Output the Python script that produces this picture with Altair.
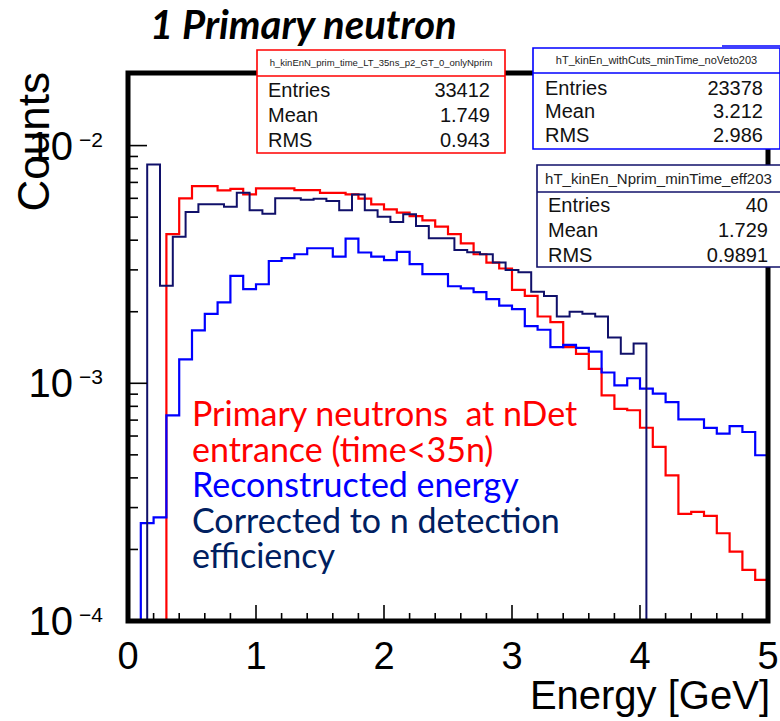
import altair as alt
import pandas as pd

# ---------------- data ----------------
red_values = [0, 0, 0, 0.00424, 0.00600, 0.00675, 0.00675, 0.00648, 0.00658, 0.00623,
              0.00661, 0.00661, 0.00661, 0.00649, 0.00650, 0.00633, 0.00633, 0.00623, 0.00598, 0.00566,
              0.00539, 0.00522, 0.00505, 0.00485, 0.00456, 0.00424, 0.00388, 0.00349, 0.00322, 0.00304,
              0.00247, 0.00233, 0.00191, 0.00181, 0.00142, 0.00133, 0.00115, 0.00089, 0.00078, 0.00077,
              0.00065, 0.00054, 0.00041, 0.000282, 0.000288, 0.000277, 0.000234, 0.000196, 0.000164, 0.000149]
blue_values = [0, 0.000258, 0.000273, 0.000733, 0.00126, 0.00167, 0.00196, 0.00219, 0.00283, 0.00249,
               0.00261, 0.00327, 0.00336, 0.00349, 0.00370, 0.00370, 0.00341, 0.00406, 0.00355, 0.00341,
               0.00330, 0.00357, 0.00317, 0.00288, 0.00288, 0.00256, 0.00251, 0.00242, 0.00226, 0.00212,
               0.00205, 0.00174, 0.00168, 0.00142, 0.00145, 0.00141, 0.00136, 0.00111, 0.00098, 0.00105,
               0.00095, 0.000904, 0.000834, 0.000705, 0.000705, 0.000649, 0.000614, 0.000661, 0.000624, 0.000498]
navy_values = [0.00832, 0.00257, 0.00414, 0.00525, 0.00566, 0.00566, 0.00553, 0.00633, 0.00534, 0.00517,
               0.00600, 0.00600, 0.00592, 0.00598, 0.00584, 0.00535, 0.00623, 0.00535, 0.00502, 0.00477,
               0.00514, 0.00459, 0.00408, 0.00408, 0.00364, 0.00356, 0.00349, 0.00322, 0.00300, 0.00293,
               0.00243, 0.00233, 0.00191, 0.00200, 0.00196, 0.00191, 0.00156, 0.00133, 0.00147]
bin_width = 0.1
red_blue_start = 0.0
navy_start = 0.15

x_tick_labels = ["0", "1", "2", "3", "4", "5"]
y_decades = [-2, -3, -4]

box1_title = "h_kinEnN_prim_time_LT_35ns_p2_GT_0_onlyNprim"
box1_values = ["33412", "1.749", "0.943"]
box2_title = "hT_kinEn_withCuts_minTime_noVeto203"
box2_values = ["23378", "3.212", "2.986"]
box3_title = "hT_kinEn_Nprim_minTime_eff203"
box3_values = ["40", "1.729", "0.9891"]
stat_names = ["Entries", "Mean", "RMS"]

note_lines = [
    ("Primary neutrons \u00a0at nDet", "#ff0000"),
    ("entrance (time<35n)", "#ff0000"),
    ("Reconstructed energy", "#0000ff"),
    ("Corrected to n detection", "#002060"),
    ("efficiency", "#002060"),
]
title_text = "1 Primary neutron"

# ---------------- geometry ----------------
W, H = 640, 548
TINY = 1e-6
xscale = alt.Scale(domain=[0, 5], nice=False, zero=False)
yscale = alt.Scale(type="log", domain=[1e-4, 0.0202], nice=False, clamp=True)
one = alt.Data(values=[{"a": 1}])

RED, BLUE, NAVY = "#ff0000", "#0000ff", "#10106a"


def hist_steps(start, values):
    edges = [round(start + bin_width * i, 4) for i in range(len(values) + 1)]
    rows = [{"E": edges[0], "v": TINY}]
    for e, v in zip(edges[:-1], values):
        rows.append({"E": e, "v": v if v > 0 else TINY})
    rows.append({"E": edges[-1], "v": values[-1] if values[-1] > 0 else TINY})
    rows.append({"E": edges[-1], "v": TINY})
    df = pd.DataFrame(rows)
    df["i"] = range(len(df))
    return df


def hist_layer(df, color, width):
    return alt.Chart(df).mark_line(interpolate="step-after", color=color, strokeWidth=width).encode(
        x=alt.X("E:Q", scale=xscale, axis=None),
        y=alt.Y("v:Q", scale=yscale, axis=None),
        order=alt.Order("i:Q"),
    )


def txt(s, x, y, size, color="black", align="left", font="Liberation Sans",
        weight="normal", style="normal", angle=0):
    return alt.Chart(one).mark_text(
        text=s, align=align, baseline="alphabetic", fontSize=size, font=font,
        fontWeight=weight, fontStyle=style, color=color, angle=angle
    ).encode(x=alt.value(x), y=alt.value(y))


def box(x0, x1, y0, y1, ysep, color):
    r = alt.Chart(one).mark_rect(fill="white", stroke=color, strokeWidth=1.6).encode(
        x=alt.value(x0), x2=alt.value(x1), y=alt.value(y0), y2=alt.value(y1))
    s = alt.Chart(one).mark_rule(color=color, strokeWidth=1.6).encode(
        x=alt.value(x0), x2=alt.value(x1), y=alt.value(ysep))
    return [r, s]


def stats(title, values, x0, x1, y0, y1, ysep, color, tsize, lx, vx, rows_y):
    layers = box(x0, x1, y0, y1, ysep, color)
    layers.append(txt(title, (x0 + min(x1, 652)) / 2, (y0 + ysep) / 2 + tsize * 0.36, tsize,
                      color="#222222", align="center"))
    for name, val, yy in zip(stat_names, values, rows_y):
        layers.append(txt(name, lx, yy, 20, color="#111111"))
        layers.append(txt(val, vx, yy, 20, color="#111111", align="right"))
    return layers


layers = []
layers.append(hist_layer(hist_steps(red_blue_start, red_values), RED, 2.2))
layers.append(hist_layer(hist_steps(red_blue_start, blue_values), BLUE, 2.2))
layers.append(hist_layer(hist_steps(navy_start, navy_values), NAVY, 2.0))

# frame
layers.append(alt.Chart(one).mark_rect(filled=False, stroke="black", strokeWidth=5).encode(
    x=alt.value(0), x2=alt.value(W), y=alt.value(0), y2=alt.value(H)))

# ticks (inside the frame, ROOT style)
ymaj = pd.DataFrame({"v": [10.0 ** d for d in y_decades]})
ymin = pd.DataFrame({"v": [k * 10.0 ** d for d in [-4, -3] for k in range(2, 10)]})
layers.append(alt.Chart(ymaj).mark_rule(color="black", strokeWidth=1.6).encode(
    y=alt.Y("v:Q", scale=yscale, axis=None), x=alt.value(0), x2=alt.value(19)))
layers.append(alt.Chart(ymin).mark_rule(color="black", strokeWidth=1.6).encode(
    y=alt.Y("v:Q", scale=yscale, axis=None), x=alt.value(0), x2=alt.value(10)))
xmaj = pd.DataFrame({"t": [float(s) for s in x_tick_labels], "lab": x_tick_labels})
xmin = pd.DataFrame({"t": [round(0.2 * k, 2) for k in range(1, 25) if k % 5 != 0]})
layers.append(alt.Chart(xmaj).mark_rule(color="black", strokeWidth=1.6).encode(
    x=alt.X("t:Q", scale=xscale, axis=None), y=alt.value(H), y2=alt.value(H - 16)))
layers.append(alt.Chart(xmin).mark_rule(color="black", strokeWidth=1.6).encode(
    x=alt.X("t:Q", scale=xscale, axis=None), y=alt.value(H), y2=alt.value(H - 8)))

# tick labels
layers.append(alt.Chart(xmaj).mark_text(fontSize=38, font="Liberation Sans", baseline="alphabetic",
                                        align="center", color="black").encode(
    x=alt.X("t:Q", scale=xscale, axis=None), y=alt.value(596), text="lab:N"))
ylab = pd.DataFrame({"v": [10.0 ** d for d in y_decades],
                     "e": ["\u2212" + str(-d) for d in y_decades]})
layers.append(alt.Chart(ylab).mark_text(text="10", fontSize=40, font="Liberation Sans",
                                        baseline="alphabetic", align="right", dy=14, color="black").encode(
    y=alt.Y("v:Q", scale=yscale, axis=None), x=alt.value(-55)))
layers.append(alt.Chart(ylab).mark_text(fontSize=21, font="Liberation Sans",
                                        baseline="alphabetic", align="left", dy=1, color="black").encode(
    y=alt.Y("v:Q", scale=yscale, axis=None), x=alt.value(-49), text="e:N"))

# axis titles
layers.append(txt("Counts", -79, -1, 44, align="right", angle=270))
layers.append(txt("Energy [GeV]", 642, 636, 40, align="right"))

# stats boxes
layers += stats(box1_title, box1_values, 129, 377, -23, 80, 3, RED, 9.5, 140, 362, [24, 49, 74])
layers += stats(box2_title, box2_values, 405, 652, -25, 76, 0, BLUE, 11, 417, 635, [22, 45, 69])
layers.append(alt.Chart(one).mark_rule(color=BLUE, strokeWidth=1.6).encode(
    x=alt.value(594), x2=alt.value(652), y=alt.value(-27)))
layers += stats(box3_title, box3_values, 409, 660, 92, 194, 119, NAVY, 15, 420, 640, [139, 164, 189])

# annotation lines
for k, (s, c) in enumerate(note_lines):
    layers.append(txt(s, 64, 353 + 35.5 * k, 34, color=c, font="Lato"))

# title
layers.append(txt(title_text, 22, -34, 40, font="Lato", weight="bold", style="italic"))

chart = alt.layer(*layers).properties(
    width=W, height=H,
    autosize=alt.AutoSizeParams(type="none"),
    padding={"left": 128, "top": 73, "right": 12, "bottom": 100},
    background="white",
).configure_view(stroke=None)

chart.save("out.html", embed_options={"renderer": "svg", "actions": False})
